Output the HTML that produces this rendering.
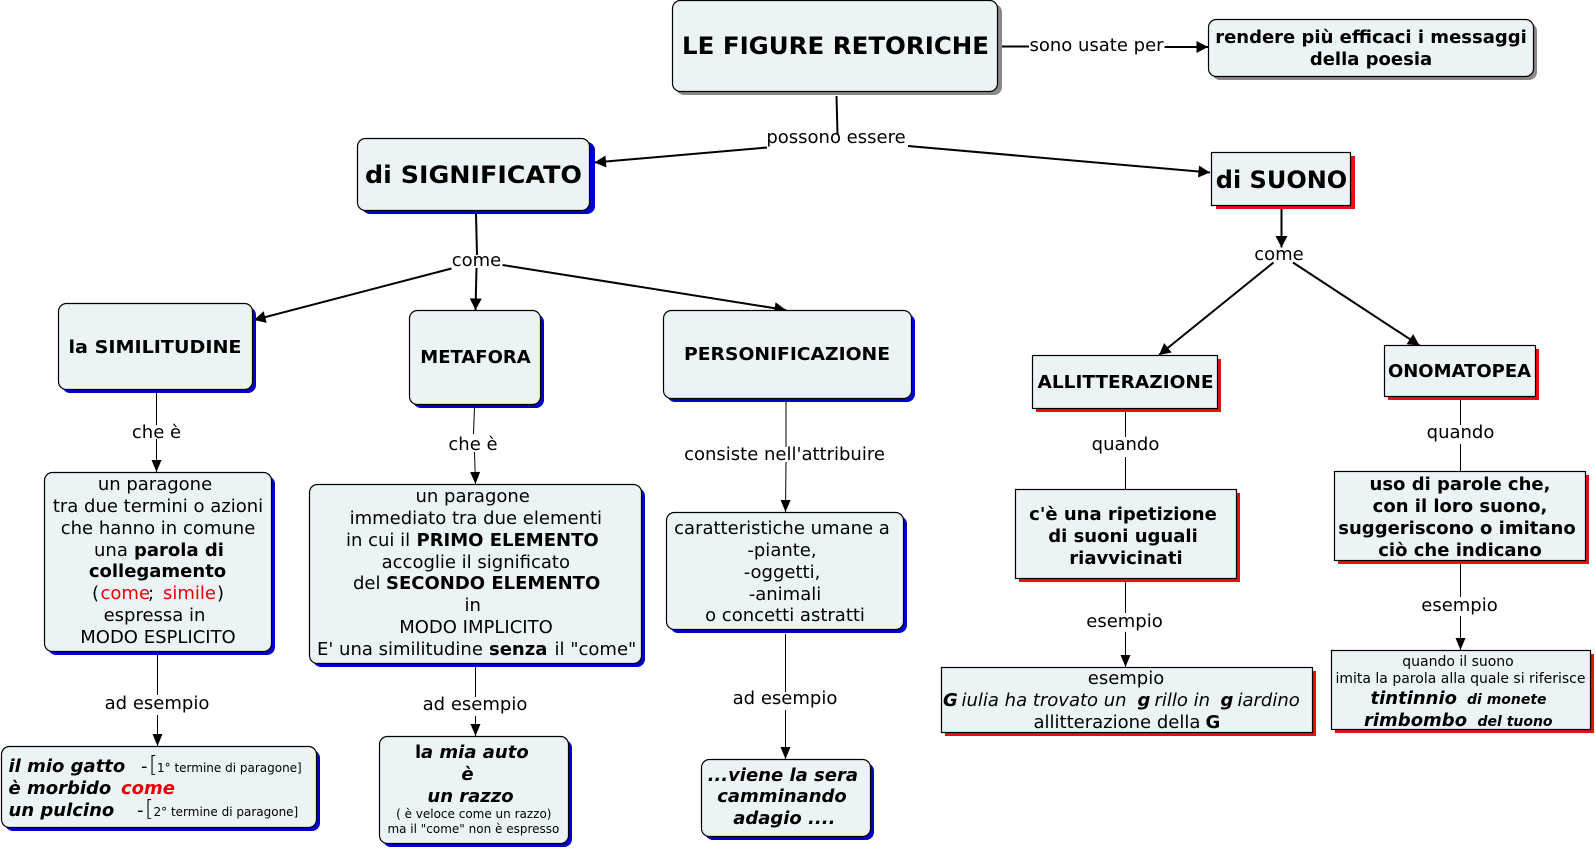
<!DOCTYPE html>
<html lang="it">
<head>
<meta charset="utf-8">
<title>Le figure retoriche</title>
<style>
html,body{margin:0;padding:0;background:#fff}
svg{display:block}
text{font-family:"DejaVu Sans","Liberation Sans",sans-serif;font-size:18px;fill:#000;white-space:pre}
.c{text-anchor:middle}
.b{font-weight:bold}
.i{font-style:italic}
.bi{font-weight:bold;font-style:italic}
.r{fill:#e80000}
.t{font-size:24px;font-weight:bold}
.s{font-size:14px}
.xs{font-size:12px}
.box{fill:#ecf3f5;stroke:#000;stroke-width:1.2}
.blue{fill:#0000cc}
.red{fill:#e81010}
.gray{fill:#888}
.th{stroke:#000;stroke-width:2;fill:none}
.tn{stroke:#000;stroke-width:1;fill:none}
</style>
</head>
<body>
<svg width="1596" height="850" viewBox="0 0 1596 850" xmlns="http://www.w3.org/2000/svg">
<defs>
<marker id="a" markerUnits="userSpaceOnUse" markerWidth="13" markerHeight="14" refX="12" refY="7" orient="auto"><path d="M0.5 1L12 7L0.5 13z" fill="#000"/></marker>
<marker id="n" markerUnits="userSpaceOnUse" markerWidth="14" markerHeight="12" refX="13" refY="6" orient="auto"><path d="M1 1L13 6L1 11z" fill="#000"/></marker>
</defs>

<!-- thick connectors -->
<path class="th" d="M836.5 96L837.5 134"/>
<path class="th" d="M767 147.5L594.5 162.5" marker-end="url(#a)"/>
<path class="th" d="M908 146L1210 172.5" marker-end="url(#a)"/>
<path class="th" d="M1001 46.5H1029"/>
<path class="th" d="M1164.5 47H1208" marker-end="url(#a)"/>
<path class="th" d="M476 214L477 255"/>
<path class="th" d="M476.5 268L475.5 310" marker-end="url(#a)"/>
<path class="th" d="M451.5 268.5L254 320" marker-end="url(#a)"/>
<path class="th" d="M502.5 265L786 310" marker-end="url(#a)"/>
<path class="th" d="M1281.5 209V247.5" marker-end="url(#a)"/>
<path class="th" d="M1273.5 262.5L1159 355" marker-end="url(#a)"/>
<path class="th" d="M1293 262.5L1419.5 345.5" marker-end="url(#a)"/>

<!-- thin connectors -->
<path class="tn" d="M156.5 392V425"/>
<path class="tn" d="M156.5 439V472" marker-end="url(#n)"/>
<path class="tn" d="M474.5 407L473.5 434"/>
<path class="tn" d="M474.5 452L475.5 484" marker-end="url(#n)"/>
<path class="tn" d="M786 401V447"/>
<path class="tn" d="M786 462L785.5 512" marker-end="url(#n)"/>
<path class="tn" d="M1125.5 412V437"/>
<path class="tn" d="M1125.5 457V489"/>
<path class="tn" d="M1460.5 400V425"/>
<path class="tn" d="M1460.5 444V471"/>
<path class="tn" d="M1125.5 581V613"/>
<path class="tn" d="M1125.5 632V667" marker-end="url(#n)"/>
<path class="tn" d="M1460.5 564V597"/>
<path class="tn" d="M1460.5 616V650" marker-end="url(#n)"/>
<path class="tn" d="M157.5 655V695"/>
<path class="tn" d="M157.5 715V746" marker-end="url(#n)"/>
<path class="tn" d="M475.5 667V697"/>
<path class="tn" d="M475.5 716V736" marker-end="url(#n)"/>
<path class="tn" d="M785.5 634V692"/>
<path class="tn" d="M785.5 710V759" marker-end="url(#n)"/>

<!-- shadows -->
<rect class="gray" x="676" y="4" width="326" height="91" rx="8"/>
<rect class="gray" x="1212" y="23" width="325" height="57" rx="8"/>
<rect class="blue" x="362" y="142" width="233" height="72" rx="8"/>
<rect class="blue" x="62" y="307" width="194" height="86" rx="8"/>
<rect class="blue" x="413" y="314" width="131" height="94" rx="8"/>
<rect class="blue" x="667" y="314" width="248" height="88" rx="8"/>
<rect class="blue" x="48" y="476" width="227" height="179" rx="8"/>
<rect class="blue" x="313" y="488" width="332" height="179" rx="8"/>
<rect class="blue" x="670" y="516" width="237" height="117" rx="8"/>
<rect class="blue" x="5" y="750" width="315" height="81" rx="8"/>
<rect class="blue" x="383" y="740" width="189" height="107" rx="8"/>
<rect class="blue" x="705" y="763" width="169" height="77" rx="8"/>
<rect class="red" x="1216" y="156" width="139" height="53"/>
<rect class="red" x="1036" y="359" width="185" height="53"/>
<rect class="red" x="1388" y="349" width="151" height="51"/>
<rect class="red" x="1019" y="493" width="221" height="89"/>
<rect class="red" x="1338" y="475" width="251" height="89"/>
<rect class="red" x="945" y="671" width="371" height="65"/>
<rect class="red" x="1335" y="654" width="259" height="79"/>

<!-- boxes -->
<rect class="box" x="672.5" y="0.5" width="325" height="91" rx="8"/>
<rect class="box" x="1208.5" y="19.5" width="325" height="57" rx="8"/>
<rect class="box" x="357.5" y="138.5" width="232" height="72" rx="8"/>
<rect class="box" x="58.5" y="303.5" width="194" height="86" rx="8"/>
<rect class="box" x="409.5" y="310.5" width="131" height="94" rx="8"/>
<rect class="box" x="663.5" y="310.5" width="248" height="88" rx="8"/>
<rect class="box" x="44.5" y="472.5" width="227" height="179" rx="8"/>
<rect class="box" x="309.5" y="484.5" width="332" height="179" rx="8"/>
<rect class="box" x="666.5" y="512.5" width="237" height="117" rx="8"/>
<rect class="box" x="1.5" y="746.5" width="315" height="81" rx="8"/>
<rect class="box" x="379.5" y="736.5" width="189" height="107" rx="8"/>
<rect class="box" x="701.5" y="759.5" width="169" height="77" rx="8"/>
<rect class="box" x="1211.5" y="152.5" width="139" height="53"/>
<rect class="box" x="1032.5" y="355.5" width="185" height="53"/>
<rect class="box" x="1384.5" y="345.5" width="151" height="51"/>
<rect class="box" x="1015.5" y="489.5" width="221" height="89"/>
<rect class="box" x="1334.5" y="471.5" width="251" height="89"/>
<rect class="box" x="941.5" y="667.5" width="371" height="65"/>
<rect class="box" x="1331.5" y="650.5" width="259" height="79"/>

<!-- top labels -->
<text class="t" x="682" y="54" textLength="307" lengthAdjust="spacingAndGlyphs">LE FIGURE RETORICHE</text>
<text class="c b" x="1371" y="43">rendere più efficaci i messaggi</text>
<text class="c b" x="1371" y="65">della poesia</text>
<text class="c" x="1096.5" y="51">sono usate per</text>
<text class="c" x="836" y="143">possono essere</text>
<text class="t" x="365" y="183" textLength="217" lengthAdjust="spacingAndGlyphs">di SIGNIFICATO</text>
<text class="c t" x="1281.5" y="188">di SUONO</text>
<text class="c" x="476.5" y="266">come</text>
<text class="c" x="1279" y="260">come</text>
<text class="b" x="68.5" y="353" textLength="173" lengthAdjust="spacingAndGlyphs">la SIMILITUDINE</text>
<text class="c b" x="475.5" y="363">METAFORA</text>
<text class="b" x="684" y="360" textLength="206" lengthAdjust="spacingAndGlyphs">PERSONIFICAZIONE</text>
<text class="b" x="1037.5" y="388" textLength="176" lengthAdjust="spacingAndGlyphs">ALLITTERAZIONE</text>
<text class="c b" x="1459.5" y="377">ONOMATOPEA</text>

<!-- connector labels -->
<text class="c" x="156.5" y="438">che è</text>
<text class="c" x="473" y="450">che è</text>
<text class="c" x="784.5" y="460">consiste nell'attribuire</text>
<text class="c" x="1125.5" y="450">quando</text>
<text class="c" x="1460.5" y="438">quando</text>
<text class="c" x="1124.5" y="627">esempio</text>
<text class="c" x="1459.5" y="611">esempio</text>
<text class="c" x="157" y="709">ad esempio</text>
<text class="c" x="475" y="710">ad esempio</text>
<text class="c" x="785" y="704">ad esempio</text>

<!-- un paragone 1 -->
<text class="c" x="155" y="490">un paragone</text>
<text class="c" x="158" y="512">tra due termini o azioni</text>
<text class="c" x="158" y="534">che hanno in comune</text>
<text y="556"><tspan x="94">una </tspan><tspan class="b" x="134">parola di</tspan></text>
<text class="c b" x="157.5" y="577">collegamento</text>
<text y="599"><tspan x="92">(</tspan><tspan class="r" x="100.5">come</tspan><tspan x="148">;</tspan><tspan class="r" x="163">simile</tspan><tspan x="217">)</tspan></text>
<text class="c" x="154.5" y="621">espressa in</text>
<text class="c" x="158" y="643">MODO ESPLICITO</text>

<!-- un paragone 2 -->
<text class="c" x="472.7" y="502">un paragone</text>
<text class="c" x="475.8" y="524">immediato tra due elementi</text>
<text y="546"><tspan x="346">in cui il </tspan><tspan class="b" x="416.5">PRIMO ELEMENTO</tspan></text>
<text class="c" x="475.8" y="568">accoglie il significato</text>
<text y="589"><tspan x="353">del </tspan><tspan class="b" x="386">SECONDO ELEMENTO</tspan></text>
<text class="c" x="472.7" y="611">in</text>
<text class="c" x="476" y="633">MODO IMPLICITO</text>
<text y="655"><tspan x="317">E' una similitudine </tspan><tspan class="b" x="489">senza</tspan><tspan x="554.5">il "come"</tspan></text>

<!-- caratteristiche -->
<text class="c" x="782" y="534">caratteristiche umane a</text>
<text class="c" x="782" y="556">-piante,</text>
<text class="c" x="782" y="578">-oggetti,</text>
<text class="c" x="785" y="600">-animali</text>
<text class="c" x="785" y="621">o concetti astratti</text>

<!-- c'e -->
<text class="c b" x="1123" y="520">c'è una ripetizione</text>
<text class="c b" x="1123" y="542">di suoni uguali</text>
<text class="c b" x="1126" y="564">riavvicinati</text>

<!-- uso -->
<text class="c b" x="1460" y="490">uso di parole che,</text>
<text class="c b" x="1460" y="512">con il loro suono,</text>
<text class="c b" x="1457" y="534">suggeriscono o imitano</text>
<text class="c b" x="1460" y="556">ciò che indicano</text>

<!-- esempio box -->
<text class="c" x="1126" y="684">esempio</text>
<text y="706"><tspan class="bi" x="943">G</tspan><tspan class="i" x="961.5">iulia ha trovato un</tspan><tspan class="bi" x="1137.5">g</tspan><tspan class="i" x="1154.5">rillo in</tspan><tspan class="bi" x="1220.5">g</tspan><tspan class="i" x="1237.5">iardino</tspan></text>
<text y="728"><tspan x="1033.5">allitterazione della</tspan><tspan class="b" x="1205.5">G</tspan></text>

<!-- quando box -->
<text class="c s" x="1458" y="666">quando il suono</text>
<text class="c s" x="1460.5" y="683">imita la parola alla quale si riferisce</text>
<text y="704"><tspan class="bi" x="1370.5">tintinnio</tspan><tspan class="bi s" x="1467">di monete</tspan></text>
<text y="726"><tspan class="bi" x="1364">rimbombo</tspan><tspan class="bi s" x="1477.5">del tuono</tspan></text>

<!-- il mio gatto -->
<text y="772"><tspan class="bi" x="8.5">il mio gatto</tspan><tspan x="141">-</tspan><tspan x="149" style="font-size:22px;font-weight:100">[</tspan><tspan class="xs" x="157">1° termine di paragone]</tspan></text>
<text y="794"><tspan class="bi" x="8.5">è morbido</tspan><tspan class="bi r" x="121">come</tspan></text>
<text y="816"><tspan class="bi" x="8.5">un pulcino</tspan><tspan x="137">-</tspan><tspan x="145" style="font-size:22px;font-weight:100">[</tspan><tspan class="xs" x="153.5">2° termine di paragone]</tspan></text>

<!-- la mia auto -->
<text y="758"><tspan class="b" x="415">l</tspan><tspan class="bi" x="421">a mia auto</tspan></text>
<text class="c bi" x="467.5" y="780">è</text>
<text class="c bi" x="470.5" y="802">un razzo</text>
<text class="c xs" x="473.8" y="818">( è veloce come un razzo)</text>
<text class="c xs" x="473.4" y="833">ma il "come" non è espresso</text>

<!-- viene -->
<text class="c bi" x="782.8" y="781">...viene la sera</text>
<text class="c bi" x="782" y="802">camminando</text>
<text class="c bi" x="784.3" y="824">adagio ....</text>
</svg>
</body>
</html>
